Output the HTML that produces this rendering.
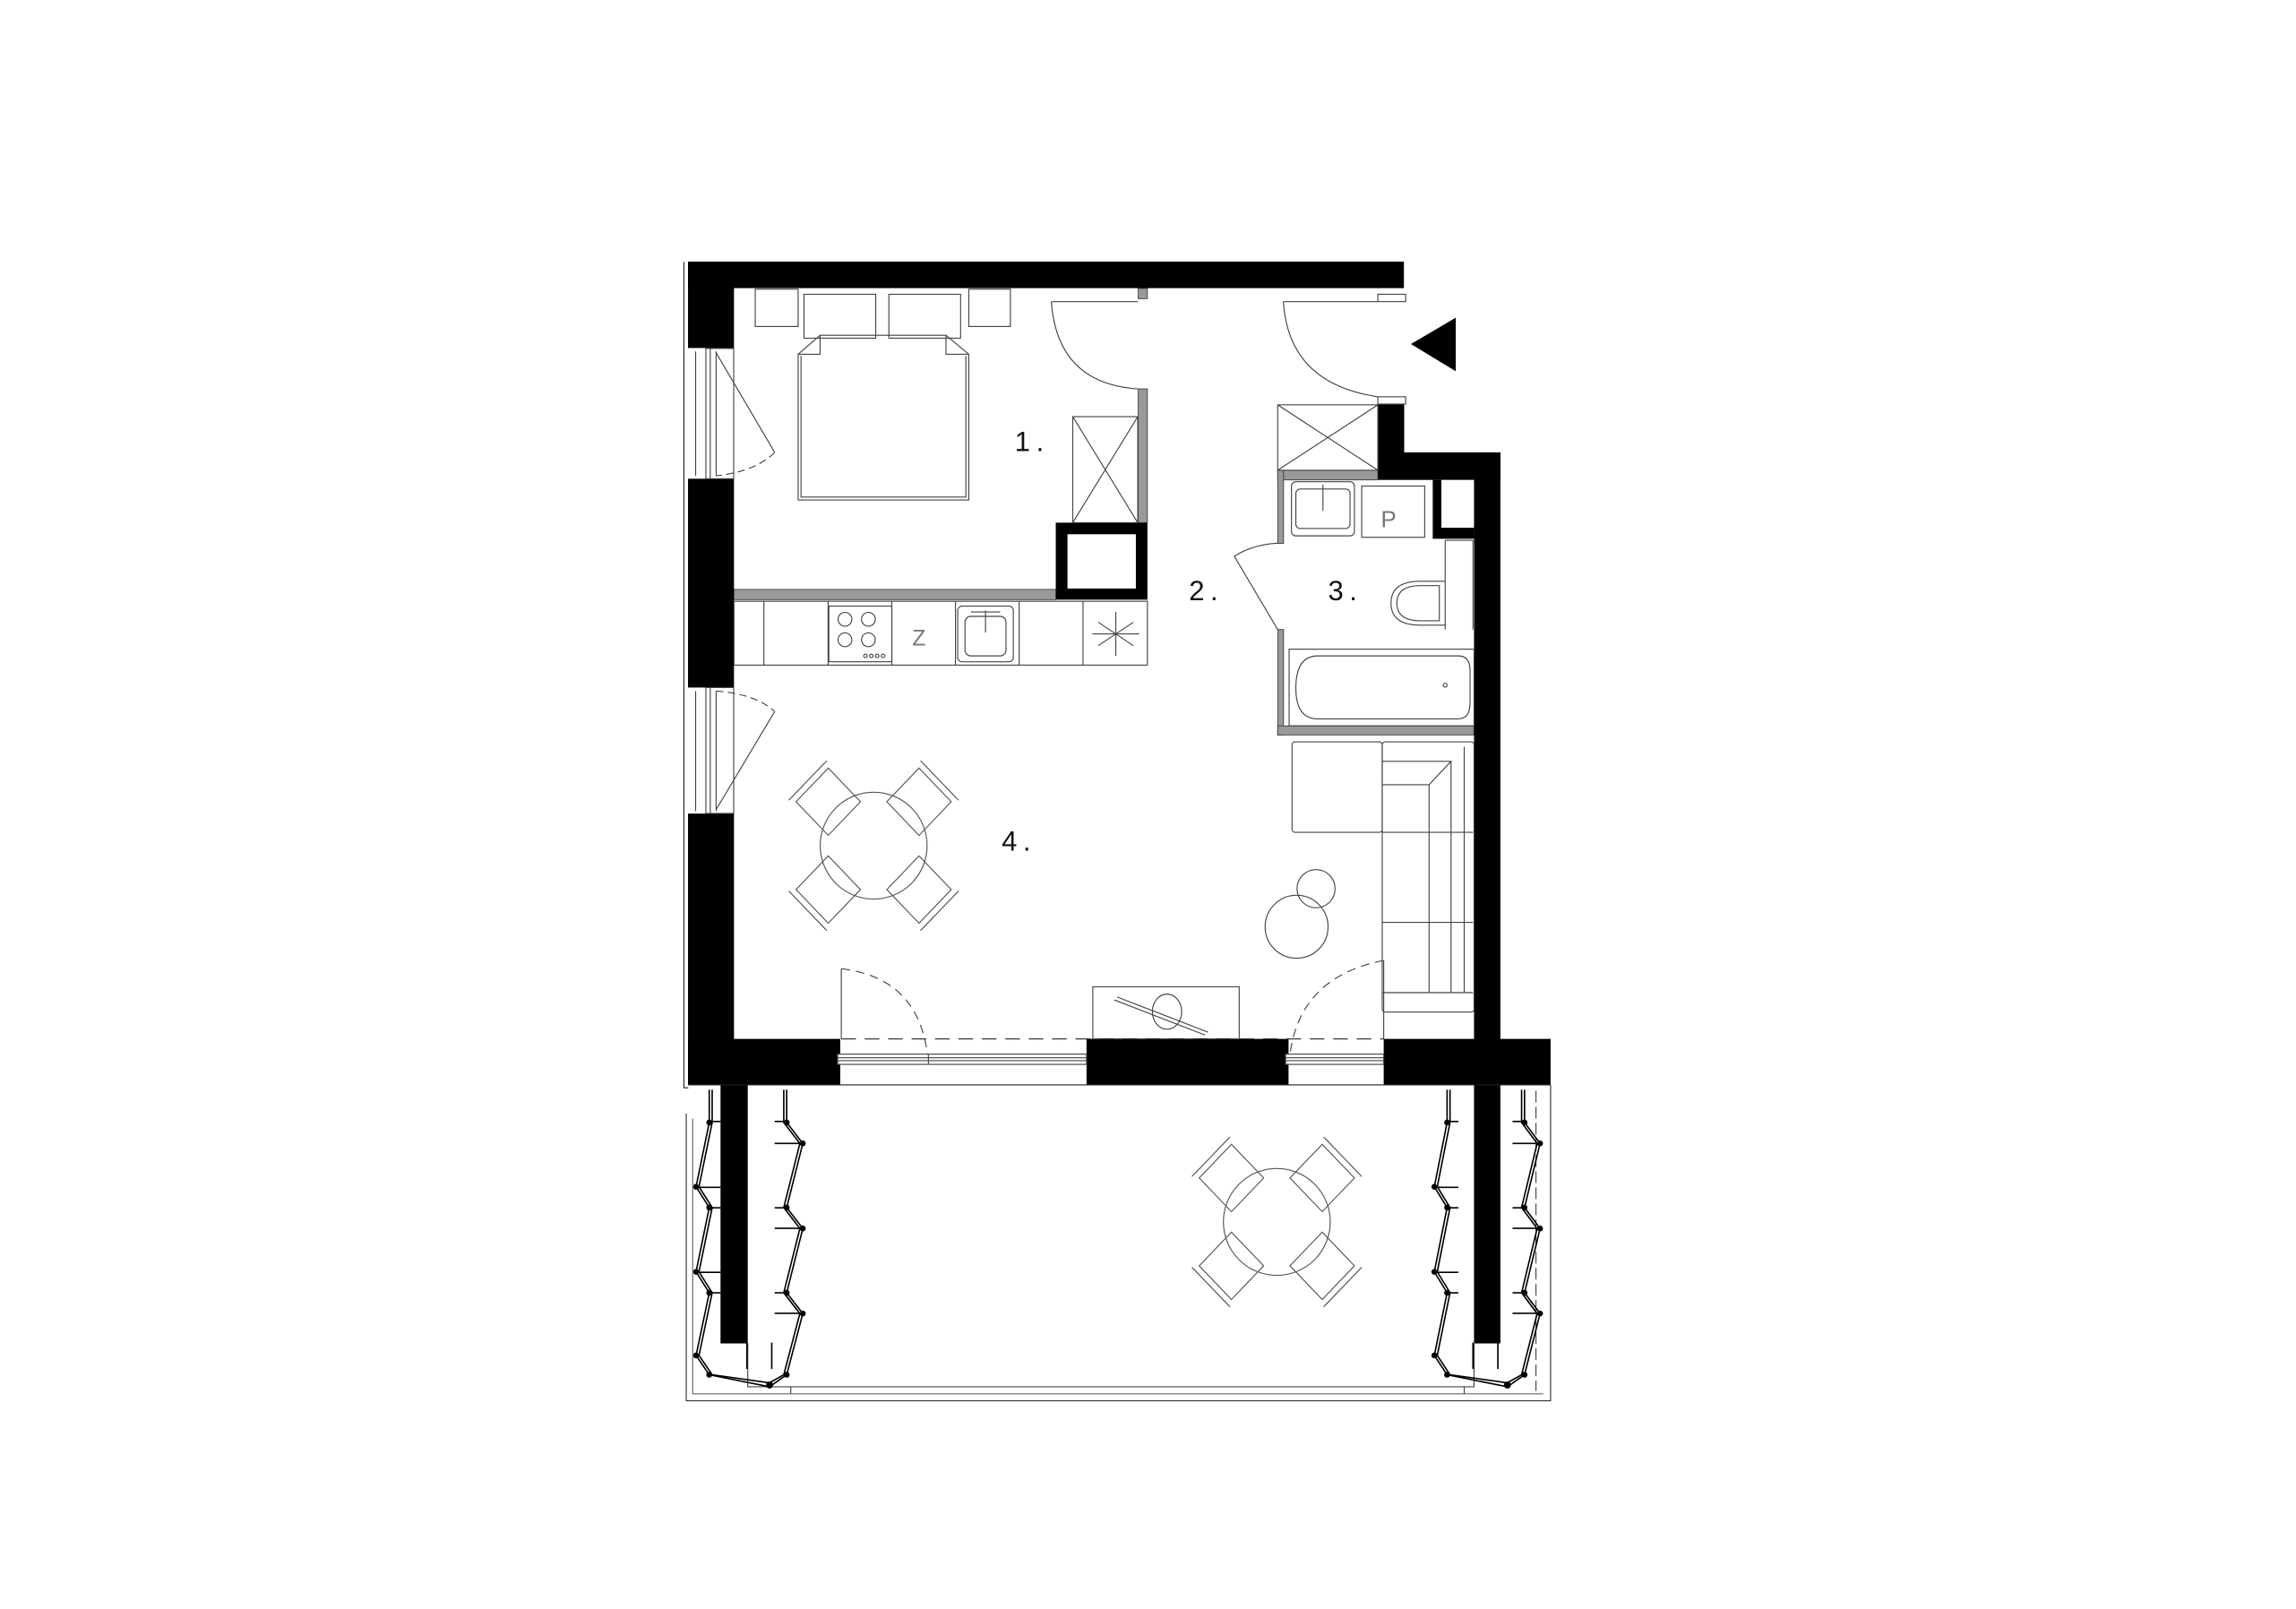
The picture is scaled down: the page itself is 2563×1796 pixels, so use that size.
<!DOCTYPE html>
<html><head><meta charset="utf-8"><style>html,body{margin:0;padding:0;background:#fff}svg{display:block}</style></head>
<body>
<svg width="2563" height="1796" viewBox="0 0 1568 1099" xmlns="http://www.w3.org/2000/svg" font-family="'Liberation Sans', sans-serif">
<defs>
<g id="chair" fill="none" stroke="#555" stroke-width="0.7">
  <path d="M0,-23 L22,0 L0,23 L-22,0 Z"/>
  <path d="M-25,-3 L-3,-26 M-27,-1 L-1,-28"/>
</g>
<g id="table4">
  <circle r="36.5" fill="none" stroke="#555" stroke-width="0.7"/>
  <use href="#chair" transform="translate(-31,-30)"/>
  <use href="#chair" transform="translate(31,-30) scale(-1,1)"/>
  <use href="#chair" transform="translate(-31,30) scale(1,-1)"/>
  <use href="#chair" transform="translate(31,30) scale(-1,-1)"/>
</g>
</defs>
<rect width="1568" height="1099" fill="#fff"/>

<path d="M467,179 V743 H470" fill="none" stroke="#333" stroke-width="0.8"/>

<g fill="#000">
  <rect x="469.8" y="178.7" width="489" height="18.1"/>
  <rect x="469.8" y="178.7" width="31.4" height="59"/>
  <rect x="469.8" y="327" width="31.4" height="142.6"/>
  <rect x="469.8" y="555.7" width="31.4" height="185"/>
  <rect x="941" y="275.8" width="18" height="51"/>
  <rect x="941" y="309" width="83.7" height="18.8"/>
  <rect x="1006.7" y="309" width="18" height="432"/>
  <rect x="978.5" y="327.8" width="28.2" height="40.2"/>
  <rect x="721" y="357" width="62.6" height="52.6"/>
  <rect x="469.8" y="709.6" width="104" height="31.5"/>
  <rect x="742" y="709.6" width="138" height="31.5"/>
  <rect x="945" y="709.6" width="114" height="31.5"/>
  <rect x="492" y="741" width="18.6" height="176.6"/>
  <rect x="1006.7" y="741" width="18" height="176.6"/>
</g>
<g fill="#fff">
  <rect x="984.4" y="327.8" width="22.3" height="32.7"/>
  <rect x="729" y="364.9" width="46.7" height="37.1"/>
</g>

<g fill="#999" stroke="#333" stroke-width="0.5">
  <rect x="777.3" y="197" width="6.3" height="7"/>
  <rect x="777.3" y="265.6" width="6.3" height="91.4"/>
  <rect x="501.2" y="402.6" width="219.8" height="7"/>
  <rect x="872.6" y="321.2" width="68.4" height="6.6"/>
  <rect x="872.6" y="321.2" width="4" height="50"/>
  <rect x="872.6" y="430" width="4" height="72"/>
  <rect x="872.6" y="495.8" width="134" height="6.2"/>
</g>

<g fill="none" stroke="#444" stroke-width="0.7">
  <rect x="515.7" y="197.5" width="29.3" height="25.5"/>
  <rect x="661.6" y="197.5" width="28.4" height="25.5"/>
  <rect x="549" y="201" width="49" height="30"/>
  <rect x="607" y="201" width="49" height="30"/>
  <path d="M545,242 L560,229 H646 L661.6,242 V341.5 H545 Z"/>
  <path d="M547,243 V339.5 H659.6 V243 M545,242 H560 V229 M661.6,242 H646 V229"/>
  <rect x="732.6" y="284.6" width="44.4" height="72.4"/>
  <path d="M732.6,284.6 L777,357 M777,284.6 L732.6,357"/>
  <rect x="872.6" y="276.5" width="68.4" height="44.7"/>
  <path d="M872.6,276.5 L941,321.2 M941,276.5 L872.6,321.2"/>
  <rect x="501.2" y="410.7" width="282.4" height="43.6"/>
  <path d="M521.6,410.7 V454.3 M565.5,410.7 V454.3 M609,410.7 V454.3 M652.5,410.7 V454.3 M696,410.7 V454.3 M739.6,410.7 V454.3"/>
  <rect x="566" y="414" width="43" height="38"/>
  <circle cx="577" cy="423" r="4.7"/><circle cx="593" cy="423" r="4.7"/>
  <circle cx="577" cy="437" r="4.7"/><circle cx="593" cy="437" r="4.7"/>
  <circle cx="591" cy="448" r="1.2"/><circle cx="595" cy="448" r="1.2"/><circle cx="599" cy="448" r="1.2"/><circle cx="603" cy="448" r="1.2"/>
  <rect x="654" y="414" width="38" height="38" rx="3"/>
  <rect x="659" y="421" width="28" height="27" rx="4"/>
  <path d="M673,417 V432 M663,418 H683"/>
  <path d="M762,418 V448 M750,425 L774,441 M750,441 L774,425 M746,433 H778"/>
  <rect x="882" y="329" width="43" height="37" rx="3"/>
  <rect x="885" y="334" width="37" height="27" rx="3"/>
  <path d="M903.5,331 V349"/>
  <rect x="930" y="332" width="43" height="35"/>
  <path d="M987,369 V430 M1006,369 V430 M987,369 H1006"/>
  <path d="M987,397 H970 Q950,397 950,412 Q950,427 970,427 H987"/>
  <path d="M983,400 H970 Q954,400 954,412 Q954,424 970,424 H983 Z"/>
  <rect x="880.4" y="443.4" width="126.3" height="52.4"/>
  <path d="M900,448 H996 Q1004,448 1004,458 V480 Q1004,491 996,491 H900 Q885,491 885,470 Q885,448 900,448 Z"/>
  <circle cx="987" cy="468" r="1.3"/>
  <path d="M872.6,430 L843,380 Q855,372 872.6,371"/>
  <path d="M718,206 H777 M718,206 Q722,262 777,265.6"/>
  <path d="M876.5,206 H941 M876.5,206 Q880,262 941,271"/>
  <rect x="941" y="201" width="19" height="5" fill="#fff"/>
  <rect x="941" y="271" width="19" height="5" fill="#fff"/>
  <rect x="882.4" y="506.7" width="61.6" height="61.8" rx="2"/>
  <rect x="944" y="506.7" width="62.7" height="184.6" rx="2"/>
  <path d="M944,520 H991 L976,536 H944 M976,536 V678 M991,520 V678 M1000,510 V678 M944,568.5 H1006 M944,630 H1006 M944,678 H1006"/>
  <circle cx="885.5" cy="633" r="21.5"/>
  <circle cx="898.8" cy="607" r="13"/>
  <rect x="746.3" y="674" width="100" height="35.6"/>
  <path d="M763,681 L825,705 M761,683 L823,707"/>
  <ellipse cx="797" cy="691" rx="10" ry="12"/>
  <path d="M574.5,709.6 V661.7"/>
  <path d="M574.5,661.7 Q630,668 634,727" stroke-dasharray="6,4"/>
  <path d="M945,656 V709.6"/>
  <path d="M945,656 Q884,668 880.4,727" stroke-dasharray="6,4"/>
  <path d="M574.5,709.6 H945" stroke="#222" stroke-dasharray="10,6"/>
  <rect x="572" y="720" width="170" height="7" fill="#fff"/>
  <path d="M572,722.5 H742 M572,724.5 H742 M634,720 V727"/>
  <rect x="878" y="720" width="67" height="7" fill="#fff"/>
  <path d="M878,722.5 H945 M878,724.5 H945"/>
  <path d="M469.8,741 H1059" stroke="#222"/>
  <rect x="482" y="238" width="19" height="89" fill="#fff"/>
  <path d="M485,238 V327 M489,240 V325 M475,240 V325"/>
  <path d="M489,241 L529,309"/>
  <path d="M529,309 Q516,322 489,325" stroke-dasharray="5,3"/>
  <rect x="482" y="469.6" width="19" height="86" fill="#fff"/>
  <path d="M485,469.6 V555.7 M489,472 V554 M475,472 V554"/>
  <path d="M489,472 Q516,474 529,486" stroke-dasharray="5,3"/>
  <path d="M529,486 L489,553"/>
  <path d="M468.6,760.6 V956.8 H1059 V741" stroke="#333"/>
  <path d="M473,764 V952 H1054" stroke="#666"/>
  <path d="M510.6,917.6 V947.2 H1006.7 V917.6"/>
  <path d="M540,947.2 V952 M1000,947.2 V952"/>
  <path d="M1049,745 V950" stroke-dasharray="8,3"/>
</g>

<g fill="none" stroke="#000" stroke-width="1">
  <polyline points="484.3,744.3 484.3,766.7 475.3,810.6 484.3,824.8 475.3,868.7 484.3,883 475.3,925.8 484.3,939 525.5,947.2"/>
  <polyline points="486.3,744.3 486.3,766.7 477.3,810.6 486.3,824.8 477.3,868.7 486.3,883 477.3,925.8 486.3,939 525.5,944.5"/>
  <polyline points="537.2,744.3 537.2,766.7 548.2,781 537.2,824.8 548.2,839.1 537.2,883 548.2,897.2 537.2,939 525.5,947.2"/>
  <polyline points="535.2,744.3 535.2,766.7 546.2,781 535.2,824.8 546.2,839.1 535.2,883 546.2,897.2 535.2,939 525.5,944.5"/>
  <polyline points="988.3,744.3 988.3,766.7 979.6,810.6 988.3,824.8 979.6,868.7 988.3,883 979.6,925.8 988.3,939 1029.5,947.2"/>
  <polyline points="990.3,744.3 990.3,766.7 981.6,810.6 990.3,824.8 981.6,868.7 990.3,883 981.6,925.8 990.3,939 1029.5,944.5"/>
  <polyline points="1041.2,744.3 1041.2,766.7 1051.8,781 1041.2,824.8 1051.8,839.1 1041.2,883 1051.8,897.2 1041.2,939 1029.5,947.2"/>
  <polyline points="1039.2,744.3 1039.2,766.7 1049.8,781 1039.2,824.8 1049.8,839.1 1039.2,883 1049.8,897.2 1039.2,939 1029.5,944.5"/>
  <path d="M484,766 H492 M484,825 H492 M484,883 H492 M537,766 H529 M537,825 H529 M537,883 H529 M988,766 H996 M988,825 H996 M988,883 H996 M1041,766 H1033 M1041,825 H1033 M1041,883 H1033 M476,811 H492 M476,869 H492 M548,781 H529 M548,839 H529 M548,897 H529 M980,811 H996 M980,869 H996 M1052,781 H1033 M1052,839 H1033 M1052,897 H1033"/>
  <path d="M510,917 V935 M527,917 V935 M1006,917 V935 M1023,917 V935"/>
</g>
<g fill="#000">
  <circle cx="484.3" cy="766.7" r="2"/><circle cx="475.3" cy="810.6" r="2"/><circle cx="484.3" cy="824.8" r="2"/><circle cx="475.3" cy="868.7" r="2"/><circle cx="484.3" cy="883" r="2"/><circle cx="475.3" cy="925.8" r="2"/><circle cx="484.3" cy="939" r="2"/><circle cx="525.5" cy="946" r="2.4"/>
  <circle cx="537.2" cy="766.7" r="2"/><circle cx="548.2" cy="781" r="2"/><circle cx="537.2" cy="824.8" r="2"/><circle cx="548.2" cy="839.1" r="2"/><circle cx="537.2" cy="883" r="2"/><circle cx="548.2" cy="897.2" r="2"/><circle cx="537.2" cy="939" r="2"/>
  <circle cx="988.3" cy="766.7" r="2"/><circle cx="979.6" cy="810.6" r="2"/><circle cx="988.3" cy="824.8" r="2"/><circle cx="979.6" cy="868.7" r="2"/><circle cx="988.3" cy="883" r="2"/><circle cx="979.6" cy="925.8" r="2"/><circle cx="988.3" cy="939" r="2"/><circle cx="1029.5" cy="946" r="2.4"/>
  <circle cx="1041.2" cy="766.7" r="2"/><circle cx="1051.8" cy="781" r="2"/><circle cx="1041.2" cy="824.8" r="2"/><circle cx="1051.8" cy="839.1" r="2"/><circle cx="1041.2" cy="883" r="2"/><circle cx="1051.8" cy="897.2" r="2"/><circle cx="1041.2" cy="939" r="2"/>
</g>

<use href="#table4" transform="translate(596.6,577.6)"/>
<use href="#table4" transform="translate(872,834.6)"/>

<path d="M963.6,235 L994.2,217 V253.6 Z" fill="#000"/>

<g font-size="19" fill="#111" letter-spacing="4">
  <text x="693" y="308">1.</text>
  <text x="812" y="410">2.</text>
  <text x="907" y="410">3.</text>
  <text x="684" y="581">4.</text>
</g>
<text x="623" y="441" font-size="15" fill="#777">Z</text>
<text x="943" y="360" font-size="16" fill="#777">P</text>
</svg>
</body></html>
